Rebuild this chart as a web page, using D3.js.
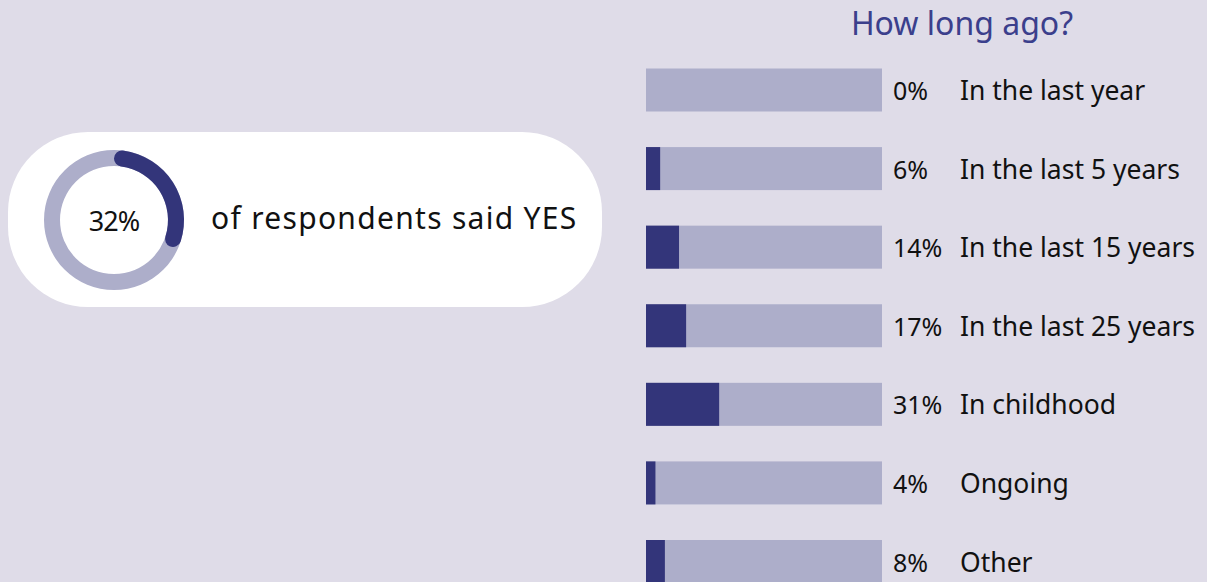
<!DOCTYPE html>
<html>
<head>
<meta charset="utf-8">
<script src="https://cdn.jsdelivr.net/npm/d3@7"></script>
<style>
  html, body { margin: 0; padding: 0; background: #dfdce8; }
  svg { display: block; font-family: "Noto Sans", "Open Sans", sans-serif; }
</style>
</head>
<body>
<svg id="chart" width="1207" height="582"></svg>
<script>
// Share of respondents who answered YES
const yesShare = [32];
const yesCaption = ["of respondents said YES"];

// Breakdown: how long ago it happened
const chartTitle = ["How long ago?"];
const categories = ["In the last year", "In the last 5 years", "In the last 15 years",
                    "In the last 25 years", "In childhood", "Ongoing", "Other"];
const values = [0, 6, 14, 17, 31, 4, 8];

const W = 1207, H = 582;
const dark = "#33357a", light = "#adaeca", bg = "#dfdce8";

const svg = d3.select("#chart");
svg.append("rect").attr("width", W).attr("height", H).attr("fill", bg);

// ---- Left panel: rounded card with progress ring ----
const card = svg.append("g");
card.append("rect")
  .attr("x", 8).attr("y", 132).attr("width", 594).attr("height", 175)
  .attr("rx", 80).attr("ry", 80)
  .attr("fill", "#ffffff");

const cx = 114, cy = 220, rOuter = 70, rInner = 54;
const ring = card.append("g").attr("transform", `translate(${cx},${cy})`);
const pct = d3.scaleLinear().domain([0, 100]).range([0, 2 * Math.PI]);

ring.append("path")
  .attr("d", d3.arc().innerRadius(rInner).outerRadius(rOuter)
    .startAngle(0).endAngle(2 * Math.PI)())
  .attr("fill", light);

ring.append("path")
  .attr("d", d3.arc().innerRadius(rInner).outerRadius(rOuter)
    .cornerRadius((rOuter - rInner) / 2)
    .startAngle(0).endAngle(pct(yesShare[0]))())
  .attr("fill", dark);

ring.append("text")
  .attr("text-anchor", "middle")
  .attr("y", 11)
  .attr("font-size", 27)
  .attr("letter-spacing", -1)
  .attr("fill", "#111")
  .text(yesShare[0] + "%");

card.append("text")
  .attr("x", 211).attr("y", 229)
  .attr("font-size", 30)
  .attr("letter-spacing", 1.3)
  .attr("fill", "#111")
  .text(yesCaption[0]);

// ---- Right panel: horizontal progress bars ----
const barX0 = 646, barW = 236, barH = 43;
const x = d3.scaleLinear().domain([0, 100]).range([barX0, barX0 + barW]);
const y = d3.scalePoint().domain(categories).range([90, 561.5]);

svg.append("text")
  .attr("x", 962).attr("y", 35)
  .attr("text-anchor", "middle")
  .attr("font-size", 32)
  .attr("fill", "#3b3f8c")
  .text(chartTitle[0]);

const rows = svg.append("g").selectAll("g")
  .data(categories.map((c, i) => ({ c, v: values[i] })))
  .join("g")
  .attr("transform", d => `translate(0,${y(d.c)})`);

rows.append("rect")
  .attr("x", x(0)).attr("y", -barH / 2)
  .attr("width", x(100) - x(0)).attr("height", barH)
  .attr("fill", light);

rows.append("rect")
  .attr("x", x(0)).attr("y", -barH / 2)
  .attr("width", d => x(d.v) - x(0)).attr("height", barH)
  .attr("fill", dark);

rows.append("text")
  .attr("x", 893).attr("y", 10)
  .attr("font-size", 25)
  .attr("fill", "#111")
  .text(d => d.v + "%");

rows.append("text")
  .attr("x", 960).attr("y", 10)
  .attr("font-size", 26.5)
  .attr("fill", "#111")
  .text(d => d.c);
</script>
</body>
</html>
